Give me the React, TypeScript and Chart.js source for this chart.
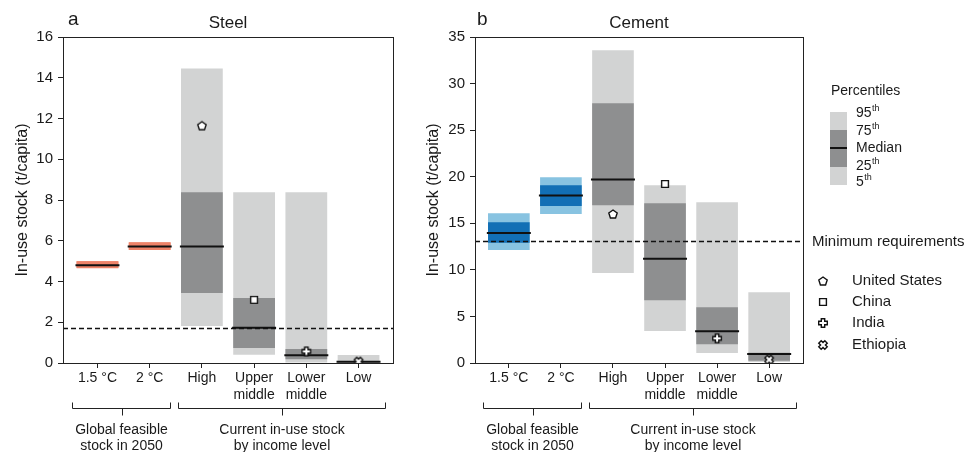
import React, { useEffect, useRef } from "react";
import { Chart, registerables } from "chart.js";

Chart.register(...registerables);

const FONT = "'Liberation Sans', Arial, Helvetica, sans-serif";
Chart.defaults.font.family = FONT;
Chart.defaults.color = "#1a1a1a";

// ---------- data ----------
const categories: string[][] = [["1.5 °C"], ["2 °C"], ["High"], ["Upper", "middle"], ["Lower", "middle"], ["Low"]];
const scenarioCount = 2; // first two categories are 2050 scenarios
const groupLabels: string[][] = [["Global feasible", "stock in 2050"], ["Current in-use stock", "by income level"]];
const groupRanges: number[][] = [[0, 1], [2, 5]];

const steelP5 = [4.65, 5.55, 1.81, 0.41, 0.03, 0.0];
const steelP25 = [4.66, 5.56, 3.43, 0.74, 0.18, 0.02];
const steelMedian = [4.8, 5.72, 5.72, 1.73, 0.38, 0.06];
const steelP75 = [4.99, 5.92, 8.38, 3.19, 0.69, 0.1];
const steelP95 = [5.0, 5.93, 14.46, 8.38, 8.38, 0.39];
const steelMinReq = 1.73;

const cementP5 = [12.13, 16.0, 9.66, 3.44, 1.07, 0.1];
const cementP25 = [12.9, 16.86, 16.93, 6.73, 2.01, 0.25];
const cementMedian = [13.96, 17.97, 19.69, 11.2, 3.4, 0.97];
const cementP75 = [15.1, 19.08, 27.88, 17.15, 5.98, 1.1];
const cementP95 = [16.07, 19.94, 33.57, 19.08, 17.25, 7.59];
const cementMinReq = 13.1;

const countries = ["United States", "China", "India", "Ethiopia"];
const countryCategory = [2, 3, 4, 5];
const steelCountry = [11.65, 3.1, 0.57, 0.07];
const cementCountry = [16.0, 19.22, 2.65, 0.36];

const steelTicks = { max: 16, step: 2 };
const cementTicks = { max: 35, step: 5 };

// ---------- styles ----------
const GRAY_LIGHT = "#d2d3d3";
const GRAY_DARK = "#8e8f90";
const INK = "#1a1a1a";

function markerCanvas(kind: string): HTMLCanvasElement {
  const s = 12;
  const c = document.createElement("canvas");
  c.width = s;
  c.height = s;
  const g = c.getContext("2d")!;
  g.translate(s / 2, s / 2);
  g.fillStyle = "#fff";
  g.strokeStyle = "#111";
  g.lineWidth = 1.4;
  g.lineJoin = "miter";
  g.beginPath();
  if (kind === "pentagon") {
    const r = 4.4;
    for (let i = 0; i < 5; i++) {
      const a = -Math.PI / 2 + (i * 2 * Math.PI) / 5;
      const px = r * Math.cos(a);
      const py = r * Math.sin(a) + 0.4;
      if (i === 0) g.moveTo(px, py);
      else g.lineTo(px, py);
    }
  } else if (kind === "square") {
    g.rect(-3.4, -3.4, 6.8, 6.8);
  } else {
    const w = 1.7;
    const L = 4.3;
    const pts = [
      [-w, -L], [w, -L], [w, -w], [L, -w], [L, w], [w, w],
      [w, L], [-w, L], [-w, w], [-L, w], [-L, -w], [-w, -w],
    ];
    const rot = kind === "x" ? Math.PI / 4 : 0;
    pts.forEach(([px, py], i) => {
      const rx = px * Math.cos(rot) - py * Math.sin(rot);
      const ry = px * Math.sin(rot) + py * Math.cos(rot);
      if (i === 0) g.moveTo(rx, ry);
      else g.lineTo(rx, ry);
    });
  }
  g.closePath();
  g.fill();
  g.stroke();
  return c;
}

interface PanelParams {
  p5: number[];
  p25: number[];
  median: number[];
  p75: number[];
  p95: number[];
  country: number[];
  minReq: number;
  ticks: { max: number; step: number };
  xMin: number;
  xMax: number;
  scenLight: string;
  scenDark: string;
  letter: string;
  title: string;
  letterDx: number;
  yAxisWidth: number;
  padRight: number;
  yTitlePad: number;
  legend: boolean;
  markers: HTMLCanvasElement[];
}

function drawSup(ctx: CanvasRenderingContext2D, x: number, y: number, main: string, sup: string) {
  ctx.font = `14px ${FONT}`;
  ctx.textBaseline = "middle";
  ctx.textAlign = "left";
  ctx.fillText(main, x, y);
  const w = ctx.measureText(main).width;
  if (sup) {
    ctx.font = `9px ${FONT}`;
    ctx.fillText(sup, x + w + 0.5, y - 4);
  }
}

function buildConfig(p: PanelParams): any {
  const light = categories.map((_, i) => (i < scenarioCount ? p.scenLight : GRAY_LIGHT));
  const dark = categories.map((_, i) => (i < scenarioCount ? p.scenDark : GRAY_DARK));
  // bracket overhang (in category units) on the left / right of each group
  const bracketPad = [[0.49, 0.39], [0.46, 0.51]];

  const plugin = {
    id: "panelDecor",
    afterDatasetsDraw(chart: any) {
      const { ctx, chartArea: a, scales } = chart;
      const y = scales.y;
      ctx.save();
      const yy = Math.round(y.getPixelForValue(p.minReq)) + 0.5;
      ctx.setLineDash([5, 3]);
      ctx.lineWidth = 1.3;
      ctx.strokeStyle = "#111";
      ctx.beginPath();
      ctx.moveTo(a.left, yy);
      ctx.lineTo(a.right, yy);
      ctx.stroke();
      ctx.setLineDash([]);
      ctx.lineWidth = 1;
      ctx.strokeStyle = "#222";
      ctx.strokeRect(
        Math.round(a.left) + 0.5,
        Math.round(a.top) + 0.5,
        Math.round(a.right - a.left),
        Math.round(a.bottom - a.top)
      );
      ctx.restore();
    },
    afterDraw(chart: any) {
      const { ctx, chartArea: a, scales } = chart;
      const x = scales.x;
      const y = scales.y;
      ctx.save();
      ctx.fillStyle = INK;
      // panel letter + title
      ctx.font = `19px ${FONT}`;
      ctx.textAlign = "left";
      ctx.textBaseline = "alphabetic";
      ctx.fillText(p.letter, a.left + p.letterDx, 25);
      ctx.font = `17px ${FONT}`;
      ctx.textAlign = "center";
      ctx.fillText(p.title, (a.left + a.right) / 2, 28);

      // brackets
      ctx.strokeStyle = "#222";
      ctx.lineWidth = 1;
      const y0 = Math.round(a.bottom + 39) + 0.5;
      const y1 = Math.round(a.bottom + 45) + 0.5;
      const y2 = Math.round(a.bottom + 52) + 0.5;
      groupRanges.forEach(([s, e], gi) => {
        const xl = Math.round(x.getPixelForValue(s - bracketPad[gi][0])) + 0.5;
        const xr = Math.round(x.getPixelForValue(e + bracketPad[gi][1])) + 0.5;
        const xm = Math.round((xl + xr) / 2) + 0.5;
        ctx.beginPath();
        ctx.moveTo(xl, y0);
        ctx.lineTo(xl, y1);
        ctx.lineTo(xr, y1);
        ctx.lineTo(xr, y0);
        ctx.moveTo(xm, y1);
        ctx.lineTo(xm, y2);
        ctx.stroke();
        ctx.font = `14px ${FONT}`;
        ctx.textAlign = "center";
        ctx.textBaseline = "middle";
        groupLabels[gi].forEach((t, li) => {
          ctx.fillText(t, (xl + xr) / 2, a.bottom + 67 + li * 16);
        });
      });

      if (p.legend) {
        const R = a.right;
        ctx.textAlign = "left";
        ctx.textBaseline = "middle";
        ctx.font = `14px ${FONT}`;
        ctx.fillText("Percentiles", R + 28, 91);
        // percentile swatch
        const bx = R + 27;
        const bw = 17;
        ctx.fillStyle = GRAY_LIGHT;
        ctx.fillRect(bx, 112, bw, 73);
        ctx.fillStyle = GRAY_DARK;
        ctx.fillRect(bx, 130, bw, 37);
        ctx.fillStyle = "#111";
        ctx.fillRect(bx, 147, bw, 2);
        ctx.fillStyle = INK;
        const lx = R + 53;
        drawSup(ctx, lx, 113, "95", "th");
        drawSup(ctx, lx, 131, "75", "th");
        drawSup(ctx, lx, 148.5, "Median", "");
        drawSup(ctx, lx, 166, "25", "th");
        drawSup(ctx, lx, 182, "5", "th");

        ctx.font = `15px ${FONT}`;
        ctx.textBaseline = "middle";
        ctx.fillText("Minimum requirements", R + 9, y.getPixelForValue(p.minReq) + 0.5);

        const rows = [280.5, 301.5, 323, 345];
        countries.forEach((name, i) => {
          const m = p.markers[i];
          ctx.drawImage(m, Math.round(R + 20) - m.width / 2, Math.round(rows[i]) - m.height / 2);
          ctx.fillStyle = INK;
          ctx.font = `15px ${FONT}`;
          ctx.fillText(name, R + 49, rows[i]);
        });
      }
      ctx.restore();
    },
  };

  return {
    type: "bar",
    data: {
      datasets: [
        {
          type: "line",
          label: "countries",
          data: p.country.map((v, i) => ({ x: countryCategory[i], y: v })),
          showLine: false,
          pointStyle: p.markers,
          pointRadius: 5,
          order: 1,
        },
        {
          type: "line",
          label: "median",
          data: p.median.map((v, i) => ({ x: i, y: v })),
          showLine: false,
          pointStyle: "line",
          pointRadius: 22,
          pointBorderWidth: 2,
          pointBorderColor: "#111",
          pointBackgroundColor: "#111",
          order: 2,
        },
        {
          type: "bar",
          label: "p25-p75",
          data: p.p25.map((v, i) => ({ x: i, y: [v, p.p75[i]] })),
          backgroundColor: dark,
          borderWidth: 0,
          grouped: false,
          categoryPercentage: 1,
          barPercentage: 0.8,
          order: 3,
        },
        {
          type: "bar",
          label: "p5-p95",
          data: p.p5.map((v, i) => ({ x: i, y: [v, p.p95[i]] })),
          backgroundColor: light,
          borderWidth: 0,
          grouped: false,
          categoryPercentage: 1,
          barPercentage: 0.8,
          order: 4,
        },
      ],
    },
    options: {
      responsive: false,
      animation: false,
      events: [],
      layout: { autoPadding: false, padding: { left: 0, top: 37, right: p.padRight, bottom: 0 } },
      plugins: { legend: { display: false }, tooltip: { enabled: false } },
      scales: {
        x: {
          type: "linear",
          min: p.xMin,
          max: p.xMax,
          offset: false,
          afterBuildTicks: (axis: any) => {
            axis.ticks = categories.map((_, i) => ({ value: i }));
          },
          afterFit: (axis: any) => {
            axis.height = 89;
            axis.paddingLeft = 0;
            axis.paddingRight = 0;
          },
          ticks: {
            autoSkip: false,
            maxRotation: 0,
            padding: 2,
            font: { size: 14, family: FONT },
            color: INK,
            callback: (v: number) => categories[Math.round(v)] ?? "",
          },
          grid: {
            drawOnChartArea: false,
            drawTicks: true,
            tickLength: 5,
            tickColor: "#222",
            offset: false,
          },
          border: { display: false },
        },
        y: {
          type: "linear",
          min: 0,
          max: p.ticks.max,
          afterFit: (axis: any) => {
            axis.width = p.yAxisWidth;
            axis.paddingTop = 0;
            axis.paddingBottom = 0;
          },
          ticks: {
            stepSize: p.ticks.step,
            padding: 5,
            font: { size: 15, family: FONT },
            color: INK,
          },
          grid: {
            drawOnChartArea: false,
            drawTicks: true,
            tickLength: 5,
            tickColor: "#222",
          },
          border: { display: false },
          title: {
            display: true,
            text: "In-use stock (t/capita)",
            font: { size: 16, family: FONT },
            color: INK,
            padding: { top: p.yTitlePad, bottom: 0 },
          },
        },
      },
    },
    plugins: [plugin],
  };
}

export default function App() {
  const steelRef = useRef<HTMLCanvasElement>(null);
  const cementRef = useRef<HTMLCanvasElement>(null);

  useEffect(() => {
    const markers = ["pentagon", "square", "plus", "x"].map(markerCanvas);
    const steel = new Chart(
      steelRef.current!,
      buildConfig({
        p5: steelP5,
        p25: steelP25,
        median: steelMedian,
        p75: steelP75,
        p95: steelP95,
        country: steelCountry,
        minReq: steelMinReq,
        ticks: steelTicks,
        xMin: -0.66,
        xMax: 5.66,
        scenLight: "#ee8369",
        scenDark: "#ee8369",
        letter: "a",
        title: "Steel",
        letterDx: 5,
        yAxisWidth: 63,
        padRight: 7,
        yTitlePad: 13,
        legend: false,
        markers,
      })
    );
    const cement = new Chart(
      cementRef.current!,
      buildConfig({
        p5: cementP5,
        p25: cementP25,
        median: cementMedian,
        p75: cementP75,
        p95: cementP95,
        country: cementCountry,
        minReq: cementMinReq,
        ticks: cementTicks,
        xMin: -0.65,
        xMax: 5.65,
        scenLight: "#88c3e1",
        scenDark: "#126fb5",
        letter: "b",
        title: "Cement",
        letterDx: 2,
        yAxisWidth: 75,
        padRight: 171,
        yTitlePad: 24,
        legend: true,
        markers,
      })
    );
    return () => {
      steel.destroy();
      cement.destroy();
    };
  }, []);

  return (
    <div style={{ position: "absolute", left: 0, top: 0, width: 974, height: 452, background: "#fff", overflow: "hidden" }}>
      <canvas
        ref={steelRef}
        width={400}
        height={452}
        style={{ position: "absolute", left: 0, top: 0, width: 400, height: 452 }}
      />
      <canvas
        ref={cementRef}
        width={574}
        height={452}
        style={{ position: "absolute", left: 400, top: 0, width: 574, height: 452 }}
      />
    </div>
  );
}
